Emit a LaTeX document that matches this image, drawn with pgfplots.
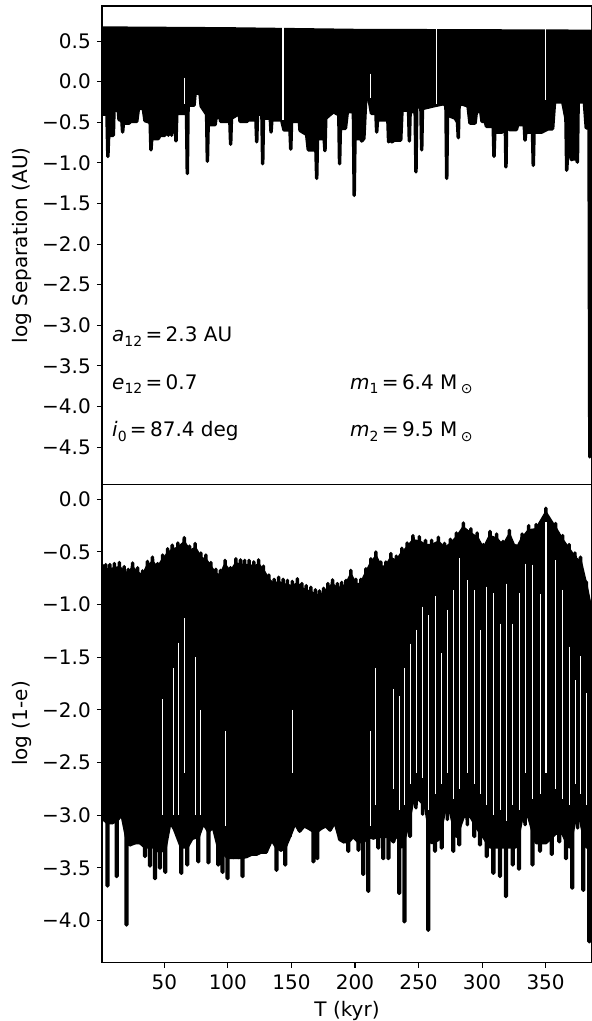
\documentclass[border=0pt]{standalone}
\usepackage{fontspec}
\setmainfont{DejaVu Sans}
\usepackage{pgfplots}
\pgfplotsset{compat=1.18}
\newcommand{\sub}[1]{\raisebox{-0.24em}{\fontsize{14}{16}\selectfont #1}}
\begin{document}
\fontsize{20}{24}\selectfont
\begin{tikzpicture}
\useasboundingbox (-102pt,-536.7pt) rectangle (490pt,484.3pt);
\pgfplotsset{panel/.style={
  scale only axis, width=490pt, xmin=0.98, xmax=386.5,
  tick pos=left, tick align=outside, major tick length=5pt,
  axis line style={line width=1.1pt},
  tick style={black, line width=1.1pt},
  yticklabel style={font=\fontsize{20}{24}\selectfont, inner sep=0pt, xshift=-6pt},
  xticklabel style={font=\fontsize{20}{24}\selectfont, inner sep=0pt, yshift=-7pt},
  minor tick num=0}}
% ---------------- top panel ----------------
\begin{axis}[panel, name=top, at={(0pt,0pt)}, anchor=south west, height=478.3pt,
  ymin=-4.958, ymax=0.932, xtick=\empty,
  ytick={-4.5,-4,-3.5,-3,-2.5,-2,-1.5,-1,-0.5,0,0.5},
  yticklabels={−4.5,−4.0,−3.5,−3.0,−2.5,−2.0,−1.5,−1.0,−0.5,0.0,0.5}]
\addplot[black, fill=black, line width=3.5pt, line join=round] coordinates {
(1.0,-0.40) (4.9,-0.40) (5.6,-0.92) (6.2,-0.66) (9.9,-0.66) (10.4,-0.35) (13.8,-0.35) (14.4,-0.47) (16.6,-0.47) (17.2,-0.62) (17.8,-0.51) (22.5,-0.51) (23.0,-0.49) (28.3,-0.49) (29.6,-0.33) (33.5,-0.33) (34.8,-0.48) (38.9,-0.50) (39.5,-0.84) (40.1,-0.70) (45.3,-0.70) (46.6,-0.66) (50.5,-0.66) (51.8,-0.47) (52.7,-0.47) (53.2,-0.66) (53.7,-0.47) (55.3,-0.47) (55.8,-0.66) (56.3,-0.47) (58.6,-0.47) (59.2,-0.73) (59.8,-0.39) (67.5,-0.39) (68.1,-1.13) (68.7,-0.29) (73.4,-0.29) (74.2,-0.14) (78.1,-0.14) (79.0,-0.30) (83.3,-0.40) (83.9,-0.98) (84.5,-0.53) (90.0,-0.53) (90.7,-0.44) (93.8,-0.44) (94.4,-0.49) (101.6,-0.49) (102.2,-0.77) (102.8,-0.45) (109.0,-0.39) (109.6,-0.49) (114.8,-0.49) (116.1,-0.47) (122.1,-0.47) (122.7,-0.74) (123.3,-0.40) (126.8,-0.40) (127.4,-1.01) (128.0,-0.45) (133.4,-0.45) (134.0,-0.62) (134.6,-0.47) (142.3,-0.47) (144.2,-0.595) (148.9,-0.595) (149.5,-0.83) (150.1,-0.49) (156.3,-0.49) (156.8,-0.60) (162.0,-0.65) (163.3,-0.84) (169.3,-0.84) (169.9,-1.19) (170.5,-0.70) (175.8,-0.70) (176.4,-0.85) (177.0,-0.45) (183.0,-0.37) (186.5,-0.40) (187.3,-0.40) (187.9,-1.01) (188.5,-0.575) (192.5,-0.575) (194.0,-0.37) (198.8,-0.37) (199.4,-1.40) (200.0,-0.70) (204.7,-0.70) (205.3,-0.73) (207.0,-0.70) (208.5,-0.20) (211.0,-0.20) (213.0,-0.39) (216.5,-0.39) (217.1,-0.62) (217.7,-0.47) (225.9,-0.47) (226.5,-0.74) (227.8,-0.70) (229.0,-0.74) (231.0,-0.72) (236.0,-0.72) (237.0,-0.35) (242.2,-0.35) (242.8,-0.73) (243.4,-0.37) (247.4,-0.37) (248.0,-1.11) (248.6,-0.31) (251.9,-0.31) (252.5,-0.84) (253.1,-0.33) (261.0,-0.30) (270.0,-0.27) (271.6,-0.30) (272.2,-1.19) (272.8,-0.41) (279.0,-0.45) (280.7,-0.50) (281.3,-0.69) (281.9,-0.30) (283.5,-0.27) (289.0,-0.30) (290.5,-0.51) (294.5,-0.51) (295.5,-0.37) (299.0,-0.37) (300.0,-0.49) (302.5,-0.49) (303.5,-0.55) (308.8,-0.55) (309.4,-0.92) (310.0,-0.62) (316.0,-0.62) (316.8,-0.41) (318.2,-0.41) (318.8,-1.05) (319.4,-0.41) (320.5,-0.41) (321.5,-0.59) (327.0,-0.59) (328.0,-0.53) (333.2,-0.53) (333.8,-0.72) (334.4,-0.62) (339.7,-0.62) (340.3,-1.03) (340.9,-0.62) (347.0,-0.62) (352.0,-0.58) (355.5,-0.58) (357.0,-0.25) (363.5,-0.25) (366.0,-0.45) (366.6,-1.09) (367.2,-0.92) (369.9,-0.92) (370.5,-0.96) (371.1,-0.95) (374.4,-0.95) (375.0,-0.99) (375.6,-0.25) (380.5,-0.25) (382.0,-0.57) (384.2,-0.57) (384.8,-4.62) (385.2,0.62) (300,0.625) (200,0.63) (150,0.64) (100,0.65) (1.0,0.66) (1.0,-0.40)
};
\addplot[white, line width=1.3pt, unbounded coords=jump] coordinates {
(65.9,0.05) (65.9,-0.28) (65.9,nan)
(143.5,0.72) (143.5,-0.47) (143.5,nan)
(212.1,0.10) (212.1,-0.20) (212.1,nan)
(264.3,0.72) (264.3,-0.27) (264.3,nan)
(350.0,0.72) (350.0,-0.22)
};
\node[anchor=base west, inner sep=0pt] at (axis cs:8.85,-3.20) {{\itshape a}\sub{12}\,=\,2.3 AU};
\node[anchor=base west, inner sep=0pt] at (axis cs:8.85,-3.785) {{\itshape e}\sub{12}\,=\,0.7};
\node[anchor=base west, inner sep=0pt] at (axis cs:8.85,-4.37) {{\itshape i}\sub{0}\,=\,87.4 deg};
\node[anchor=base west, inner sep=0pt] at (axis cs:196.1,-3.785) {{\itshape m}\sub{1}\,=\,6.4 M\,\sub{⊙}};
\node[anchor=base west, inner sep=0pt] at (axis cs:196.1,-4.37) {{\itshape m}\sub{2}\,=\,9.5 M\,\sub{⊙}};
\end{axis}
% ---------------- bottom panel ----------------
\begin{axis}[panel, name=bot, at={(0pt,0pt)}, anchor=north west, height=478.4pt,
  ymin=-4.40, ymax=0.142,
  xtick={50,100,150,200,250,300,350}, xticklabels={50,100,150,200,250,300,350},
  ytick={-4,-3.5,-3,-2.5,-2,-1.5,-1,-0.5,0},
  yticklabels={−4.0,−3.5,−3.0,−2.5,−2.0,−1.5,−1.0,−0.5,0.0}]
% solid core of the oscillation band
\addplot[black, fill=black, line width=3.5pt, line join=round] coordinates {
(1.0,-0.67) (3.95,-0.67) (7.15,-0.67) (10.75,-0.66) (14.6,-0.65) (18.45,-0.69) (21.6,-0.715) (25.0,-0.655) (29.0,-0.70) (32.9,-0.73) (36.75,-0.64) (40.7,-0.60) (44.65,-0.66) (48.7,-0.58) (52.65,-0.52) (56.25,-0.485) (60.7,-0.465) (65.7,-0.415) (69.85,-0.495) (74.25,-0.47) (78.75,-0.56) (82.7,-0.58) (86.65,-0.65) (90.55,-0.715) (94.15,-0.725) (97.8,-0.63) (102.1,-0.70) (106.35,-0.615) (109.95,-0.625) (113.25,-0.63) (116.7,-0.63) (120.4,-0.645) (124.15,-0.625) (128.0,-0.685) (132.25,-0.77) (136.35,-0.81) (140.0,-0.79) (143.45,-0.81) (146.85,-0.82) (150.7,-0.83) (154.65,-0.805) (158.25,-0.85) (161.65,-0.87) (165.3,-0.885) (168.85,-0.91) (172.1,-0.92) (175.4,-0.895) (178.7,-0.85) (182.35,-0.815) (186.25,-0.85) (189.6,-0.84) (192.9,-0.82) (196.75,-0.725) (200.7,-0.81) (204.65,-0.81) (208.55,-0.71) (212.5,-0.615) (216.45,-0.55) (220.35,-0.645) (224.3,-0.645) (228.25,-0.565)
(232.55,-0.59) (236.9,-0.515) (241.1,-0.465) (245.65,-0.395) (250.65,-0.405) (255.5,-0.44) (260.35,-0.44) (265.6,-0.41) (270.45,-0.47) (275.05,-0.43) (279.75,-0.37) (285.25,-0.275) (291.15,-0.33) (296.15,-0.37) (301.0,-0.48) (306.25,-0.355) (311.5,-0.38) (316.45,-0.45) (321.45,-0.345) (326.6,-0.49) (331.45,-0.38) (336.7,-0.30) (342.6,-0.29) (350.2,-0.135) (357.8,-0.28) (363.4,-0.395) (368.5,-0.48) (373.1,-0.56) (377.45,-0.60) (382.05,-0.835) (385.6,-1.05) (386.6,-1.05)
(386.6,-3.3) (385.6,-3.3) (382.05,-3.3) (377.45,-3.04) (373.1,-3.04) (368.5,-3.3) (363.4,-3.17) (357.8,-3.17) (350.2,-3.26) (342.6,-3.26) (336.7,-3.01) (331.45,-3.01) (326.6,-3.3) (321.45,-3.3) (316.45,-3.3) (311.5,-3.3) (306.25,-3.3) (301.0,-3.20) (296.15,-3.12) (291.15,-3.01) (285.25,-3.01) (279.75,-3.20) (275.05,-2.96) (270.45,-2.96) (265.6,-3.23) (260.35,-3.26) (255.5,-2.91) (250.65,-2.85) (245.65,-2.85) (241.1,-3.12) (236.9,-3.3) (232.55,-3.17)
(230.2,-3.25) (226.3,-3.2) (222.3,-3.2) (218.4,-3.2) (214.5,-3.215) (210.5,-3.2) (206.6,-3.25) (202.7,-3.25) (198.7,-3.20) (194.8,-3.25) (191.0,-3.25) (188.2,-3.23) (184.3,-3.06) (180.4,-3.14) (177.0,-3.10) (173.8,-3.12) (170.4,-3.15) (167.3,-3.15) (163.3,-3.12) (160.0,-3.10) (156.5,-3.15) (152.8,-3.07) (148.6,-3.20) (145.1,-3.3) (141.8,-3.33) (138.2,-3.3) (134.5,-3.23) (130.0,-3.35) (126.0,-3.35) (122.3,-3.37) (118.5,-3.37) (114.9,-3.39) (111.6,-3.40) (108.3,-3.40) (104.4,-3.40) (99.8,-3.4) (95.8,-3.35) (92.5,-3.3) (88.6,-3.11) (84.7,-3.15) (80.7,-3.07) (76.8,-3.2) (71.7,-3.22) (68.0,-3.3) (63.4,-3.3) (58.0,-3.13) (54.5,-3.06) (50.8,-3.3) (46.6,-3.35) (42.7,-3.3) (38.7,-3.3) (34.8,-3.3) (31.0,-3.26) (27.0,-3.26) (23.0,-3.28) (20.2,-3.2) (16.7,-2.99) (12.5,-3.05) (9.0,-3.07) (5.3,-3.07) (2.6,-3.04) (1.0,-3.04) (1.0,-0.67)
};
% the oscillation itself: maxima and minima of log(1-e)
\addplot[black, line width=3.5pt, line join=round, line cap=round] coordinates {
(1.0,-0.62) (2.6,-3.04) (3.95,-0.62) (5.0,-2.9) (5.0,-3.67) (5.6,-3.67) (5.6,-2.9) (7.15,-0.62) (9.0,-3.07) (10.75,-0.61) (12.2,-2.9) (12.2,-3.58) (12.8,-3.58) (12.8,-2.9) (14.6,-0.60) (16.7,-2.99) (18.45,-0.64) (19.9,-2.9) (19.9,-4.04) (20.5,-4.04) (20.5,-2.9) (21.6,-0.665) (22.7,-2.9) (22.7,-3.28) (23.3,-3.28) (23.3,-2.9) (25.0,-0.605) (26.7,-2.9) (26.7,-3.26) (27.3,-3.26) (27.3,-2.9) (29.0,-0.65) (30.7,-2.9) (30.7,-3.26) (31.3,-3.26) (31.3,-2.9) (32.9,-0.68) (34.5,-2.9) (34.5,-3.39) (35.1,-3.39) (35.1,-2.9) (36.75,-0.59) (38.4,-2.9) (38.4,-3.48) (39.0,-3.48) (39.0,-2.9) (40.7,-0.55) (42.4,-2.9) (42.4,-3.60) (43.0,-3.60) (43.0,-2.9) (44.65,-0.61) (46.3,-2.9) (46.3,-3.50) (46.9,-3.50) (46.9,-2.9) (48.7,-0.53) (50.5,-2.9) (50.5,-3.54) (51.1,-3.54) (51.1,-2.9) (52.65,-0.47) (54.5,-3.06) (56.25,-0.435) (58.0,-3.13) (60.7,-0.415) (63.1,-2.9) (63.1,-3.55) (63.7,-3.55) (63.7,-2.9) (65.7,-0.365) (67.7,-2.9) (67.7,-3.47) (68.3,-3.47) (68.3,-2.9) (69.85,-0.445) (71.4,-2.9) (71.4,-3.22) (72.0,-3.22) (72.0,-2.9) (74.25,-0.42) (76.5,-2.9) (76.5,-3.44) (77.1,-3.44) (77.1,-2.9) (78.75,-0.51) (80.7,-3.07) (82.7,-0.53) (84.4,-2.9) (84.4,-3.45) (85.0,-3.45) (85.0,-2.9) (86.65,-0.60) (88.6,-3.11) (90.55,-0.665) (92.2,-2.9) (92.2,-3.47) (92.8,-3.47) (92.8,-2.9) (94.15,-0.675) (95.5,-2.9) (95.5,-3.54) (96.1,-3.54) (96.1,-2.9) (97.8,-0.58) (99.5,-2.9) (99.5,-3.60) (100.1,-3.60) (100.1,-2.9) (102.1,-0.65) (104.1,-2.9) (104.1,-3.40) (104.7,-3.40) (104.7,-2.9) (106.35,-0.565) (108.0,-2.9) (108.0,-3.40) (108.6,-3.40) (108.6,-2.9) (109.95,-0.575) (111.3,-2.9) (111.3,-3.58) (111.9,-3.58) (111.9,-2.9) (113.25,-0.58) (114.6,-2.9) (114.6,-3.39) (115.2,-3.39) (115.2,-2.9) (116.7,-0.58) (118.2,-2.9) (118.2,-3.37) (118.8,-3.37) (118.8,-2.9) (120.4,-0.595) (122.0,-2.9) (122.0,-3.37) (122.6,-3.37) (122.6,-2.9) (124.15,-0.575) (125.7,-2.9) (125.7,-3.35) (126.3,-3.35) (126.3,-2.9) (128.0,-0.635) (129.7,-2.9) (129.7,-3.35) (130.3,-3.35) (130.3,-2.9) (132.25,-0.72) (134.2,-2.9) (134.2,-3.23) (134.8,-3.23) (134.8,-2.9) (136.35,-0.76) (137.9,-2.9) (137.9,-3.52) (138.5,-3.52) (138.5,-2.9) (140.0,-0.74) (141.5,-2.9) (141.5,-3.33) (142.1,-3.33) (142.1,-2.9) (143.45,-0.76) (144.8,-2.9) (144.8,-3.47) (145.4,-3.47) (145.4,-2.9) (146.85,-0.77) (148.3,-2.9) (148.3,-3.20) (148.9,-3.20) (148.9,-2.9) (150.7,-0.78) (152.8,-3.07) (154.65,-0.755) (156.5,-3.15) (158.25,-0.80) (160.0,-3.10) (161.65,-0.82) (163.3,-3.12) (165.3,-0.835) (167.0,-2.9) (167.0,-3.44) (167.6,-3.44) (167.6,-2.9) (168.85,-0.86) (170.1,-2.9) (170.1,-3.41) (170.7,-3.41) (170.7,-2.9) (172.1,-0.87) (173.8,-3.12) (175.4,-0.845) (177.0,-3.10) (178.7,-0.80) (180.4,-3.14) (182.35,-0.765) (184.3,-3.06) (186.25,-0.80) (187.9,-2.9) (187.9,-3.23) (188.5,-3.23) (188.5,-2.9) (189.6,-0.79) (190.7,-2.9) (190.7,-3.25) (191.3,-3.25) (191.3,-2.9) (192.9,-0.77) (194.5,-2.9) (194.5,-3.34) (195.1,-3.34) (195.1,-2.9) (196.75,-0.675) (198.4,-2.9) (198.4,-3.20) (199.0,-3.20) (199.0,-2.9) (200.7,-0.76) (202.4,-2.9) (202.4,-3.33) (203.0,-3.33) (203.0,-2.9) (204.65,-0.76) (206.3,-2.9) (206.3,-3.56) (206.9,-3.56) (206.9,-2.9) (208.55,-0.66) (210.2,-2.9) (210.2,-3.72) (210.8,-3.72) (210.8,-2.9) (212.5,-0.565) (214.2,-2.9) (214.2,-3.215) (214.8,-3.215) (214.8,-2.9) (216.45,-0.50) (218.1,-2.9) (218.1,-3.31) (218.7,-3.31) (218.7,-2.9) (220.35,-0.595) (222.0,-2.9) (222.0,-3.41) (222.6,-3.41) (222.6,-2.9) (224.3,-0.595) (226.0,-2.9) (226.0,-3.41) (226.6,-3.41) (226.6,-2.9) (228.25,-0.515) (229.9,-2.9) (229.9,-3.25) (230.5,-3.25) (230.5,-2.9) (232.55,-0.54) (234.6,-2.9) (234.6,-3.74) (235.2,-3.74) (235.2,-2.9) (236.9,-0.465) (238.6,-2.9) (238.6,-4.01) (239.2,-4.01) (239.2,-2.9) (241.1,-0.415) (243.0,-2.9) (243.0,-3.20) (243.6,-3.20) (243.6,-2.9) (245.65,-0.345) (248.0,-2.93) (250.65,-0.355) (253.3,-2.99) (255.5,-0.39) (257.4,-2.9) (257.4,-4.09) (258.0,-4.09) (258.0,-2.9) (260.35,-0.39) (262.7,-2.9) (262.7,-3.34) (263.3,-3.34) (263.3,-2.9) (265.6,-0.36) (267.9,-2.9) (267.9,-3.31) (268.5,-3.31) (268.5,-2.9) (270.45,-0.42) (272.7,-3.04) (275.05,-0.38) (277.1,-2.9) (277.1,-3.34) (277.7,-3.34) (277.7,-2.9) (279.75,-0.32) (281.8,-2.9) (281.8,-3.28) (282.4,-3.28) (282.4,-2.9) (285.25,-0.225) (288.4,-3.09) (291.15,-0.28) (293.6,-2.9) (293.6,-3.20) (294.2,-3.20) (294.2,-2.9) (296.15,-0.32) (298.1,-2.9) (298.1,-3.28) (298.7,-3.28) (298.7,-2.9) (301.0,-0.43) (303.3,-2.9) (303.3,-3.39) (303.9,-3.39) (303.9,-2.9) (306.25,-0.305) (308.6,-2.9) (308.6,-3.55) (309.2,-3.55) (309.2,-2.9) (311.5,-0.33) (313.8,-2.9) (313.8,-3.58) (314.4,-3.58) (314.4,-2.9) (316.45,-0.40) (318.5,-2.9) (318.5,-3.77) (319.1,-3.77) (319.1,-2.9) (321.45,-0.295) (323.8,-2.9) (323.8,-3.47) (324.4,-3.47) (324.4,-2.9) (326.6,-0.44) (328.8,-2.9) (328.8,-3.51) (329.4,-3.51) (329.4,-2.9) (331.45,-0.33) (333.8,-3.09) (336.7,-0.25) (339.3,-2.9) (339.3,-3.47) (339.9,-3.47) (339.9,-2.9) (342.6,-0.24) (345.3,-2.9) (345.3,-3.34) (345.9,-3.34) (345.9,-2.9) (350.2,-0.085) (354.5,-2.9) (354.5,-3.37) (355.1,-3.37) (355.1,-2.9) (357.8,-0.23) (360.5,-2.9) (360.5,-3.25) (361.1,-3.25) (361.1,-2.9) (363.4,-0.345) (365.7,-2.9) (365.7,-3.41) (366.3,-3.41) (366.3,-2.9) (368.5,-0.43) (370.7,-2.9) (370.7,-3.69) (371.3,-3.69) (371.3,-2.9) (373.1,-0.51) (375.2,-3.12) (377.45,-0.55) (379.4,-2.9) (379.4,-3.71) (380.0,-3.71) (380.0,-2.9) (382.05,-0.785) (384.1,-2.9) (384.1,-4.20) (384.7,-4.20) (384.7,-2.9) (385.6,-1.0) (386.2,-2.9) (386.2,-3.8) (386.8,-3.8)
};
% thin gaps between successive cycles
\addplot[white, line width=0.9pt, unbounded coords=jump] coordinates {
(230.2,-1.8) (230.2,-2.75) (230.2,nan)
(234.9,-1.87) (234.9,-2.95) (234.9,nan)
(238.9,-1.6) (238.9,-2.9) (238.9,nan)
(243.3,-1.37) (243.3,-2.7) (243.3,nan)
(248.0,-1.24) (248.0,-2.6) (248.0,nan)
(253.3,-1.02) (253.3,-2.65) (253.3,nan)
(257.7,-1.1) (257.7,-2.95) (257.7,nan)
(263.0,-0.92) (263.0,-2.8) (263.0,nan)
(268.2,-1.46) (268.2,-2.7) (268.2,nan)
(272.7,-1.05) (272.7,-2.6) (272.7,nan)
(277.4,-0.86) (277.4,-2.85) (277.4,nan)
(282.1,-0.56) (282.1,-2.75) (282.1,nan)
(288.4,-0.77) (288.4,-2.6) (288.4,nan)
(293.9,-0.86) (293.9,-2.7) (293.9,nan)
(298.4,-1.24) (298.4,-2.8) (298.4,nan)
(303.6,-0.83) (303.6,-2.9) (303.6,nan)
(308.9,-0.89) (308.9,-3.0) (308.9,nan)
(314.1,-1.18) (314.1,-2.95) (314.1,nan)
(318.8,-0.80) (318.8,-3.05) (318.8,nan)
(324.1,-1.18) (324.1,-2.9) (324.1,nan)
(329.1,-0.89) (329.1,-2.95) (329.1,nan)
(333.8,-0.61) (333.8,-2.6) (333.8,nan)
(339.6,-0.62) (339.6,-2.85) (339.6,nan)
(345.6,-0.9) (345.6,-2.8) (345.6,nan)
(357.8,-0.58) (357.8,-2.75) (357.8,nan)
(363.4,-0.86) (363.4,-2.85) (363.4,nan)
(368.5,-1.40) (368.5,-2.9) (368.5,nan)
(373.1,-1.72) (373.1,-2.7) (373.1,nan)
(377.45,-1.49) (377.45,-2.8) (377.45,nan)
(382.05,-1.84) (382.05,-2.9)
};
\addplot[white, line width=0.6pt, unbounded coords=jump] coordinates {
(48.5,-1.9) (48.5,-3.0) (48.5,nan)
(57.1,-1.6) (57.1,-3.0) (57.1,nan)
(61.3,-1.36) (61.3,-3.0) (61.3,nan)
(65.8,-1.13) (65.8,-2.6) (65.8,nan)
(74.3,-1.5) (74.3,-3.0) (74.3,nan)
(78.1,-2.0) (78.1,-3.0) (78.1,nan)
(98.2,-2.2) (98.2,-3.1) (98.2,nan)
(150.9,-2.0) (150.9,-2.6) (150.9,nan)
(211.8,-2.2) (211.8,-3.1) (211.8,nan)
(215.8,-1.6) (215.8,-2.9)
};
\addplot[white, line width=2.2pt] coordinates {(350.2,-0.22) (350.2,-2.6)};
\end{axis}
\node[rotate=90, anchor=base, inner sep=0pt] at (-74.5pt,239.15pt) {log Separation (AU)};
\node[rotate=90, anchor=base, inner sep=0pt] at (-74.5pt,-239.2pt) {log (1-e)};
\node[anchor=base, inner sep=0pt] at (245pt,-532.4pt) {T (kyr)};
\end{tikzpicture}
\end{document}
